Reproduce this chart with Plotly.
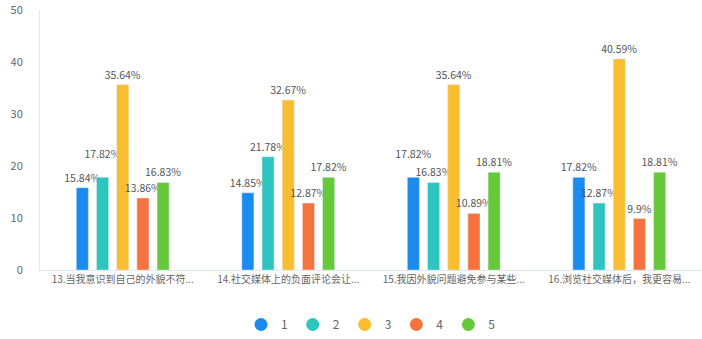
import plotly.graph_objects as go

categories = ["13.当我意识到自己的外貌不符...", "14.社交媒体上的负面评论会让...",
              "15.我因外貌问题避免参与某些...", "16.浏览社交媒体后，我更容易..."]
series_names = ["1", "2", "3", "4", "5"]
values = {
    "1": [15.84, 14.85, 17.82, 17.82],
    "2": [17.82, 21.78, 16.83, 12.87],
    "3": [35.64, 32.67, 35.64, 40.59],
    "4": [13.86, 12.87, 10.89, 9.9],
    "5": [16.83, 17.82, 18.81, 18.81],
}
colors = ["#1a8cf0", "#2ec4c0", "#f9bd30", "#f5733f", "#66c93a"]
ytick_vals = [0, 10, 20, 30, 40, 50]
# labels lifted by one line to avoid colliding with a neighbour's label
lifted = {("2", 0), ("1", 2)}

font_family = "Noto Sans CJK SC, Noto Sans, sans-serif"
fig = go.Figure()
for name, c in zip(series_names, colors):
    texts = []
    for i, v in enumerate(values[name]):
        t = f"{v}%"
        if (name, i) in lifted:
            t += "<br> "
        texts.append(t)
    fig.add_trace(go.Bar(
        x=categories, y=values[name], name=name, marker_color=c,
        text=texts, textposition="outside",
        constraintext="none",
        textfont=dict(size=10.5, color="#555555", family=font_family),
        cliponaxis=False, showlegend=False,
    ))
    fig.add_trace(go.Scatter(
        x=[None], y=[None], mode="markers", name=name,
        marker=dict(symbol="circle", size=13, color=c),
    ))

fig.update_layout(
    width=702, height=339,
    margin=dict(l=40, r=0, t=10, b=69),
    paper_bgcolor="white", plot_bgcolor="white",
    barmode="group", bargap=0.39, bargroupgap=0.4,
    font=dict(family=font_family, color="#666666", size=11),
    legend=dict(orientation="h", x=0.5, xanchor="center", y=-0.21, yanchor="middle",
                font=dict(size=12, color="#666666"), itemwidth=30,
                traceorder="normal"),
    xaxis=dict(showline=True, linecolor="#dfe6f0", linewidth=1, ticks="",
               tickfont=dict(size=10, color="#666666")),
    yaxis=dict(range=[0, 50], tickvals=ytick_vals, showgrid=False, showline=True,
               linecolor="#dfe6f0", linewidth=1, zeroline=False, ticks="",
               ticklabelstandoff=14, tickfont=dict(size=11, color="#666666")),
)
fig.write_html("out.html")
